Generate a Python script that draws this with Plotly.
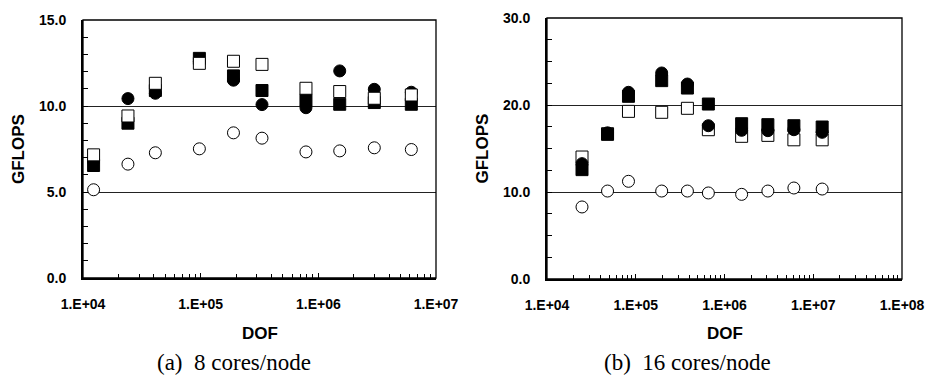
import plotly.graph_objects as go

# ---- data: (a) 8 cores/node ----
dof_a = [1.23e4, 2.41e4, 4.12e4, 9.75e4, 1.90e5, 3.32e5, 7.85e5, 1.52e6, 2.99e6, 6.17e6]
a_open_circle = [5.13, 6.62, 7.28, 7.51, 8.44, 8.13, 7.33, 7.39, 7.57, 7.47]
a_filled_circle = [6.8, 10.43, 10.74, 12.6, 11.5, 10.08, 9.9, 12.04, 10.97, 10.8]
a_filled_square = [6.54, 9.0, 10.9, 12.77, 11.75, 10.9, 10.35, 10.1, 10.2, 10.1]
a_open_square = [7.16, 9.42, 11.32, 12.48, 12.6, 12.42, 11.03, 10.84, 10.45, 10.64]

# ---- data: (b) 16 cores/node ----
dof_b = [2.48e4, 4.81e4, 8.28e4, 1.96e5, 3.82e5, 6.58e5, 1.56e6, 3.08e6, 6.05e6, 1.26e7]
b_open_circle = [8.28, 10.11, 11.23, 10.11, 10.11, 9.89, 9.73, 10.11, 10.46, 10.34]
b_filled_circle = [13.26, 16.8, 21.46, 23.68, 22.41, 17.62, 17.09, 17.05, 17.16, 16.86]
b_filled_square = [12.57, 16.63, 21.0, 22.8, 21.95, 20.11, 17.85, 17.74, 17.62, 17.47]
b_open_square = [14.02, 16.7, 19.27, 19.16, 19.62, 17.16, 16.4, 16.51, 16.0, 16.0]

# tick label aliases (plotly default log labels -> labels in the chart)
x_label_alias = {"10k": "1.E+04", "100k": "1.E+05", "1M": "1.E+06", "10M": "1.E+07", "100M": "1.E+08"}

captions = ["(a)  8 cores/node", "(b)  16 cores/node"]

W, H = 929, 385
FONT = "Liberation Sans, Arial, sans-serif"

fig = go.Figure()

def mk(x, y, symbol, filled, xa, ya):
    return go.Scatter(
        x=x, y=y, mode="markers", xaxis=xa, yaxis=ya, showlegend=False,
        marker=dict(symbol=symbol, size=12,
                    color="black" if filled else "white",
                    line=dict(color="black", width=1)))

# left panel order
fig.add_trace(mk(dof_a, a_filled_circle, "circle", True, "x", "y"))
fig.add_trace(mk(dof_a, a_filled_square, "square", True, "x", "y"))
fig.add_trace(mk(dof_a, a_open_circle, "circle", False, "x", "y"))
fig.add_trace(mk(dof_a, a_open_square, "square", False, "x", "y"))
# right panel order
fig.add_trace(mk(dof_b, b_open_square, "square", False, "x2", "y2"))
fig.add_trace(mk(dof_b, b_open_circle, "circle", False, "x2", "y2"))
fig.add_trace(mk(dof_b, b_filled_square, "square", True, "x2", "y2"))
fig.add_trace(mk(dof_b, b_filled_circle, "circle", True, "x2", "y2"))

tickfont = dict(family=FONT, size=14, color="black", weight="bold")

def xaxis(dom, lo, hi, anchor):
    return dict(
        domain=dom, type="log", range=[lo, hi], automargin=False, anchor=anchor,
        tickmode="linear", tick0=0, dtick=1, labelalias=x_label_alias,
        ticks="inside", ticklen=5, tickwidth=1.3, tickcolor="black",
        minor=dict(dtick="D1", ticks="inside", ticklen=4, tickwidth=1.3,
                   tickcolor="black", showgrid=False),
        showline=True, linewidth=2, linecolor="black", mirror=False,
        showgrid=False, zeroline=False, tickfont=tickfont, ticklabelstandoff=12,
        fixedrange=True)

def yaxis(dom, rng, major_dt, minor_dt, anchor):
    return dict(
        domain=dom, range=rng, anchor=anchor, automargin=False,
        tickmode="linear", tick0=0, dtick=major_dt, tickformat=".1f",
        ticks="inside", ticklen=5, tickwidth=1.3, tickcolor="black",
        minor=dict(tickmode="linear", tick0=0, dtick=minor_dt, ticks="inside", ticklen=5,
                   tickwidth=1.3, tickcolor="black", showgrid=False),
        showline=True, linewidth=2, linecolor="black", mirror=False,
        showgrid=True, gridcolor="#222", gridwidth=1, zeroline=False,
        tickfont=tickfont, ticklabelstandoff=12, fixedrange=True)

ydom_a = [1 - 278 / H, 1 - 20 / H]
ydom_b = [1 - 279 / H, 1 - 18 / H]
xdom_a = [83 / W, 436 / W]
xdom_b = [547 / W, 902 / W]

fig.update_layout(
    width=W, height=H, margin=dict(l=0, r=0, t=0, b=0),
    paper_bgcolor="white", plot_bgcolor="white",
    xaxis=xaxis(xdom_a, 4, 7, "y"),
    yaxis=yaxis(ydom_a, [0, 15], 5, 1, "x"),
    xaxis2=xaxis(xdom_b, 4, 8, "y2"),
    yaxis2=yaxis(ydom_b, [0, 30], 10, 2.5, "x2"),
)

# thin frame on top/right
for xr, yr in (("x domain", "y domain"), ("x2 domain", "y2 domain")):
    fig.add_shape(type="rect", xref=xr, yref=yr, x0=0, x1=1, y0=0, y1=1,
                  line=dict(color="black", width=1.3), fillcolor="rgba(0,0,0,0)", layer="above")

lab = dict(family=FONT, size=17, color="black")
for cx, cy in ((18, (20 + 278) / 2), (482, (18 + 279) / 2)):
    fig.add_annotation(text="<b>GFLOPS</b>", x=cx / W, y=1 - cy / H, xref="paper", yref="paper",
                       textangle=-90, showarrow=False, font=lab, xanchor="center", yanchor="middle")
for cx in ((83 + 436) / 2, (547 + 902) / 2):
    fig.add_annotation(text="<b>DOF</b>", x=cx / W, y=1 - 333 / H, xref="paper", yref="paper",
                       showarrow=False, font=lab, xanchor="center", yanchor="middle")

capfont = dict(family="Liberation Serif, Times New Roman, serif", size=23, color="black")
for cx, txt in zip((234, 687), captions):
    fig.add_annotation(text=txt, x=cx / W, y=1 - 362 / H, xref="paper", yref="paper",
                       showarrow=False, font=capfont, xanchor="center", yanchor="middle")

fig.write_html("out.html", config=dict(displayModeBar=False))
